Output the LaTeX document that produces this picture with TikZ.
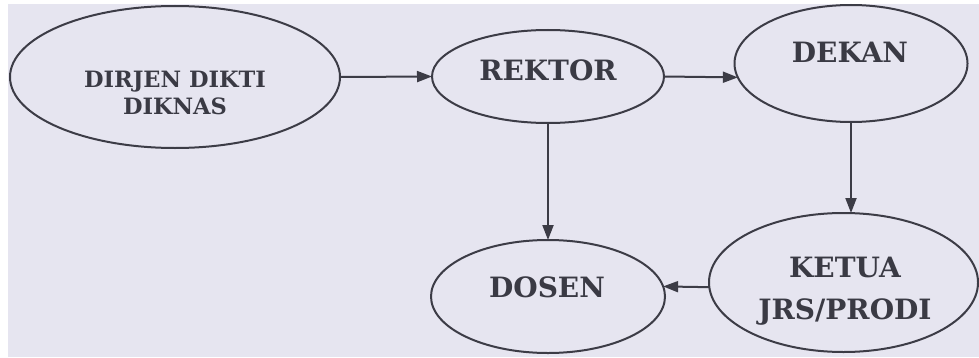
\documentclass[tikz,border=0pt]{standalone}
\usepackage{fontspec}
\setmainfont{DejaVu Serif}
\usetikzlibrary{shapes.geometric,arrows.meta}
\definecolor{bgc}{RGB}{230,229,240}
\definecolor{ink}{RGB}{58,58,68}
\definecolor{linec}{RGB}{60,60,70}
\tikzset{
  oval/.style={ellipse, draw=linec, line width=2pt, inner sep=0pt, outer sep=0pt},
  bigtxt/.style={text=ink, inner sep=0pt, anchor=north, align=center, font=\bfseries\fontsize{28}{42}\selectfont},
  smalltxt/.style={text=ink, inner sep=0pt, anchor=north, align=center, font=\bfseries\fontsize{22.5}{27}\selectfont},
  conn/.style={draw=linec, line width=2pt, -{Triangle[length=15pt,width=11pt]}}
}
\begin{document}
\begin{tikzpicture}[x=1pt,y=1pt]
\useasboundingbox (0,0) rectangle (979,357);
\fill[white] (0,0) rectangle (979,357);
\fill[bgc] (8,0) rectangle (979,353);

\node[oval, minimum width=330pt, minimum height=142pt] (dirjen) at (175,280) {};
\node[oval, minimum width=232pt, minimum height=93pt] (rektor) at (548,280.5) {};
\node[oval, minimum width=233pt, minimum height=117pt] (dekan) at (851,293.5) {};
\node[oval, minimum width=234pt, minimum height=113pt] (dosen) at (548,60.5) {};
\node[oval, minimum width=269pt, minimum height=139pt] (ketua) at (843.5,74.5) {};

\node[smalltxt] (dirjenT) at (175,286) {DIRJEN DIKTI\\DIKNAS};
\node[bigtxt] (rektorT) at (548,297) {REKTOR};
\node[bigtxt] (dekanT) at (850,315) {DEKAN};
\node[bigtxt] (dosenT) at (547,80) {DOSEN};
\node[bigtxt] (ketuaT) at (845,100) {KETUA\\JRS/PRODI};

\draw[conn] (dirjen.east) -- (rektor.west);
\draw[conn] (rektor.east) -- (dekan.187);
\draw[conn] (rektor.south) -- (dosen.north);
\draw[conn] (dekan.south) -- (dekan.south |- ketua.north);
\draw[conn] (ketua.182) -- (dosen.5);
\end{tikzpicture}
\end{document}
